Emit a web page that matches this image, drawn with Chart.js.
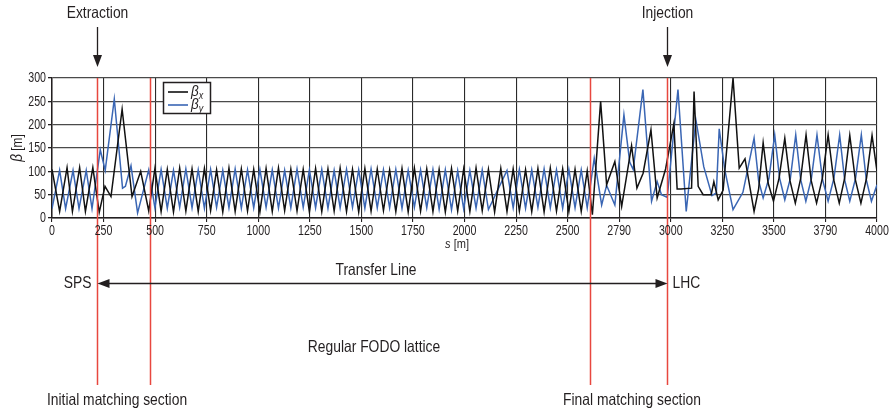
<!DOCTYPE html>
<html>
<head>
<meta charset="utf-8">
<title>SPS–LHC transfer line β-functions</title>
<script src="https://cdn.jsdelivr.net/npm/chart.js@4/dist/chart.umd.min.js"></script>
<style>
  html, body { margin: 0; padding: 0; background: #fff; }
  #wrap { width: 893px; height: 416px; }
</style>
</head>
<body>
<div id="wrap"><canvas id="c" width="893" height="416"></canvas></div>
<script>
// Longitudinal position s [m] and horizontal beta function βx [m]
const sX = [0,37,73,99,134,162,198,229,257,286,340,388,430,
  469,499,529,559,589,619,649,679,709,739,769,798,828,858,888,918,948,978,1008,1038,1068,1098,1128,1158,1188,1218,1248,1278,1308,1338,1368,1397,1428,1457,1487,1517,1547,1577,1607,1637,1667,1697,1727,1757,1787,1817,1847,1877,1907,1937,1967,1996,2026,2056,2086,2116,2146,2176,2206,2236,2266,2296,2326,2356,2386,2416,2446,2476,2506,2536,2566,2595,
  2620,2660,2689,2729,2762,2810,2836,2866,2904,2934,2975,3015,3031,3050,3101,3113,3133,3157,3196,3209,3230,3254,3302,3332,3360,3404,3426,3448,3472,3498,3525,3553,3578,3604,3630,3656,3681,3707,3735,3763,3790,3817,3843,3868,3895,3922,3949,3976,4000];
const betaX = [104,14,108,14,108,14,108,12,68,46,233,46,100,
  15,106,14,104,13,107,15,105,14,106,16,103,13,107,14,105,15,104,13,106,14,107,16,105,15,104,13,106,14,105,15,107,14,104,13,106,15,105,16,103,14,106,13,107,15,105,14,104,13,106,15,105,14,107,16,104,13,106,14,105,15,103,14,106,13,107,15,105,14,104,14,101,
  7,250,71,121,25,155,64,96,189,43,105,202,62,62,64,271,68,50,50,78,39,60,300,107,127,14,62,161,75,36,85,171,80,32,85,178,80,32,85,178,82,32,85,177,82,32,85,177,100];

// Longitudinal position s [m] and vertical beta function βy [m]
const sY = [0,37,66,102,131,166,194,234,258,302,342,356,383,415,
  469,499,529,559,589,619,649,679,709,739,769,798,828,858,888,918,948,978,1008,1038,1068,1098,1128,1158,1188,1218,1248,1278,1308,1338,1368,1397,1428,1457,1487,1517,1547,1577,1607,1637,1667,1697,1727,1757,1787,1817,1847,1877,1907,1937,1967,1996,2026,2056,2086,2116,
  2206,2236,2266,2296,2326,2356,2386,2416,2446,2476,2506,2536,2566,2595,
  2629,2665,2689,2729,2773,2801,2818,2865,2907,2934,2955,2983,3035,3075,3122,3160,3200,3221,3235,3262,3302,3350,3404,3426,3448,3476,3504,3528,3553,3580,3606,3630,3655,3682,3709,3736,3763,3791,3819,3843,3868,3896,3924,3948,3973,4000];
const betaY = [20,102,20,102,20,102,20,146,102,255,64,68,112,11,
  103,22,104,21,102,23,105,22,103,21,104,23,102,22,105,21,103,22,104,23,103,21,102,22,105,23,103,22,104,21,102,22,104,23,103,21,105,22,103,22,104,21,102,23,103,22,104,19,103,18,101,20,102,21,103,18,
  102,22,104,21,103,23,105,22,103,21,104,22,103,22,
  128,28,70,28,221,120,104,275,36,78,50,44,275,14,210,110,48,54,191,103,18,55,171,80,43,85,178,85,39,85,178,82,36,85,178,82,36,85,178,82,36,85,178,82,36,71];

// Axis tick labels (one per 250 m grid line) and y ticks
const xTickLabels = ['0','250','500','750','1000','1250','1500','1750','2000','2250','2500','2790','3000','3250','3500','3790','4000'];
const yTicks = [0, 50, 100, 150, 200, 250, 300];

// Section boundaries: extraction, end of initial matching, start of final matching, injection
const markerS = [218, 476, 2608, 2983];

const FONT = "'Liberation Sans', Arial, sans-serif";
const NARROW = 0.84;          // horizontal squeeze for a condensed look
const INK = '#231f20';
const BLUE = '#3a66b4';
const RED = '#e8473f';

const toPoints = (s, b) => s.map((v, i) => ({ x: v, y: b[i] }));

// Draw a run of text pieces [text, font] squeezed horizontally.
function narrowText(ctx, parts, x, y, align, squeeze) {
  const k = squeeze || NARROW;
  let total = 0;
  parts.forEach(([t, f]) => { ctx.font = f; total += ctx.measureText(t).width; });
  let start = align === 'center' ? -total / 2 : align === 'right' ? -total : 0;
  ctx.save();
  ctx.translate(x, y);
  ctx.scale(k, 1);
  ctx.textAlign = 'left';
  parts.forEach(([t, f, dy]) => {
    ctx.font = f;
    ctx.fillText(t, start, dy || 0);
    start += ctx.measureText(t).width;
  });
  ctx.restore();
}

function arrowHead(ctx, x, y, dx, dy, len, half) {
  // filled triangle with tip at (x,y), pointing along (dx,dy)
  const px = -dy, py = dx;
  ctx.beginPath();
  ctx.moveTo(x, y);
  ctx.lineTo(x - dx * len + px * half, y - dy * len + py * half);
  ctx.lineTo(x - dx * len - px * half, y - dy * len - py * half);
  ctx.closePath();
  ctx.fill();
}

const overlay = {
  id: 'overlay',
  afterDatasetsDraw(chart) {
    const { ctx, scales: { x }, chartArea: a } = chart;
    ctx.save();
    // red section boundaries, running down into the annotation area
    ctx.strokeStyle = RED;
    ctx.lineWidth = 1.5;
    markerS.forEach(s => {
      const px = Math.round(x.getPixelForValue(s)) + 0.5;
      ctx.beginPath();
      ctx.moveTo(px, a.top);
      ctx.lineTo(px, 385);
      ctx.stroke();
    });

    // legend box
    const lx = 163, ly = 82, lw = 47, lh = 31;
    ctx.fillStyle = '#fff';
    ctx.fillRect(lx, ly, lw, lh);
    ctx.strokeStyle = INK;
    ctx.lineWidth = 1.5;
    ctx.strokeRect(lx + 0.5, ly + 0.5, lw, lh);
    const entries = [['x', '#111', ly + 10], ['y', BLUE, ly + 23]];
    entries.forEach(([sub, col, yy]) => {
      ctx.strokeStyle = col;
      ctx.lineWidth = 1.6;
      ctx.beginPath();
      ctx.moveTo(lx + 5, yy);
      ctx.lineTo(lx + 25, yy);
      ctx.stroke();
      ctx.fillStyle = INK;
      ctx.textBaseline = 'alphabetic';
      narrowText(ctx, [['β', 'italic 15px ' + FONT], [sub, 'italic 10px ' + FONT, 3]], lx + 28, yy + 4, 'left', 0.9);
    });
    ctx.restore();
  },
  afterDraw(chart) {
    const { ctx, chartArea: a, scales: { x, y } } = chart;
    ctx.save();
    ctx.fillStyle = INK;
    ctx.strokeStyle = INK;

    // tick labels, placed by the scales
    ctx.textBaseline = 'middle';
    xTickLabels.forEach((t, i) => {
      narrowText(ctx, [[t, '14px ' + FONT]], x.getPixelForValue(i * 250), 231, 'center', 0.76);
    });
    yTicks.forEach(v => {
      narrowText(ctx, [[String(v), '14px ' + FONT]], 46, y.getPixelForValue(v) + 0.5, 'right', 0.76);
    });

    // axis titles
    ctx.save();
    ctx.translate(18, (a.top + a.bottom) / 2);
    ctx.rotate(-Math.PI / 2);
    narrowText(ctx, [['β', 'italic 16px ' + FONT], [' [m]', '14px ' + FONT]], 0, 0, 'center', 0.85);
    ctx.restore();
    narrowText(ctx, [['s', 'italic 13px ' + FONT], [' [m]', '13px ' + FONT]], 457, 244, 'center', 0.85);

    // top annotations with downward arrows
    const xExt = Math.round(x.getPixelForValue(markerS[0])) + 0.5;
    const xInj = Math.round(x.getPixelForValue(markerS[3])) + 0.5;
    const F = '16.5px ' + FONT;
    narrowText(ctx, [['Extraction', F]], xExt, 13, 'center');
    narrowText(ctx, [['Injection', F]], xInj, 13, 'center');
    ctx.lineWidth = 1.3;
    [xExt, xInj].forEach(px => {
      ctx.beginPath();
      ctx.moveTo(px, 27);
      ctx.lineTo(px, 58);
      ctx.stroke();
      arrowHead(ctx, px, 67, 0, 1, 12, 4.5);
    });

    // transfer line double arrow
    const ya = 283.5;
    ctx.lineWidth = 1.5;
    ctx.beginPath();
    ctx.moveTo(xExt + 6, ya);
    ctx.lineTo(xInj - 6, ya);
    ctx.stroke();
    arrowHead(ctx, xExt, ya, -1, 0, 12, 4.5);
    arrowHead(ctx, xInj, ya, 1, 0, 12, 4.5);

    narrowText(ctx, [['SPS', F]], xExt - 6, ya, 'right');
    narrowText(ctx, [['LHC', F]], xInj + 5, ya, 'left');
    narrowText(ctx, [['Transfer Line', F]], 376, 270, 'center');
    narrowText(ctx, [['Regular FODO lattice', F]], 374, 347, 'center');
    narrowText(ctx, [['Initial matching section', F]], 117, 400, 'center');
    narrowText(ctx, [['Final matching section', F]], 632, 400, 'center');
    ctx.restore();
  }
};

new Chart(document.getElementById('c'), {
  type: 'line',
  data: {
    datasets: [
      { label: 'βx', data: toPoints(sX, betaX), borderColor: '#111', borderWidth: 1.5,
        pointRadius: 0, tension: 0, fill: false },
      { label: 'βy', data: toPoints(sY, betaY), borderColor: BLUE, borderWidth: 1.5,
        pointRadius: 0, tension: 0, fill: false }
    ]
  },
  options: {
    responsive: false,
    animation: false,
    events: [],
    layout: { padding: { top: 78, right: 16, left: 0, bottom: 0 } },
    plugins: { legend: { display: false }, tooltip: { enabled: false } },
    scales: {
      x: {
        type: 'linear', min: 0, max: 4000,
        afterFit: s => { s.height = 198; },
        afterBuildTicks: s => { s.ticks = xTickLabels.map((_, i) => ({ value: i * 250 })); },
        ticks: { display: false },
        grid: { color: '#2a2a2a', lineWidth: 1.1, tickLength: 4, tickColor: INK },
        border: { color: INK, width: 1.5 }
      },
      y: {
        min: 0, max: 300,
        afterFit: s => { s.width = 52; },
        afterBuildTicks: s => { s.ticks = yTicks.map(v => ({ value: v })); },
        ticks: { display: false },
        grid: { color: '#4a4a4a', lineWidth: 1.3, tickLength: 4, tickColor: INK },
        border: { color: INK, width: 1.5 }
      }
    }
  },
  plugins: [overlay]
});
</script>
</body>
</html>
